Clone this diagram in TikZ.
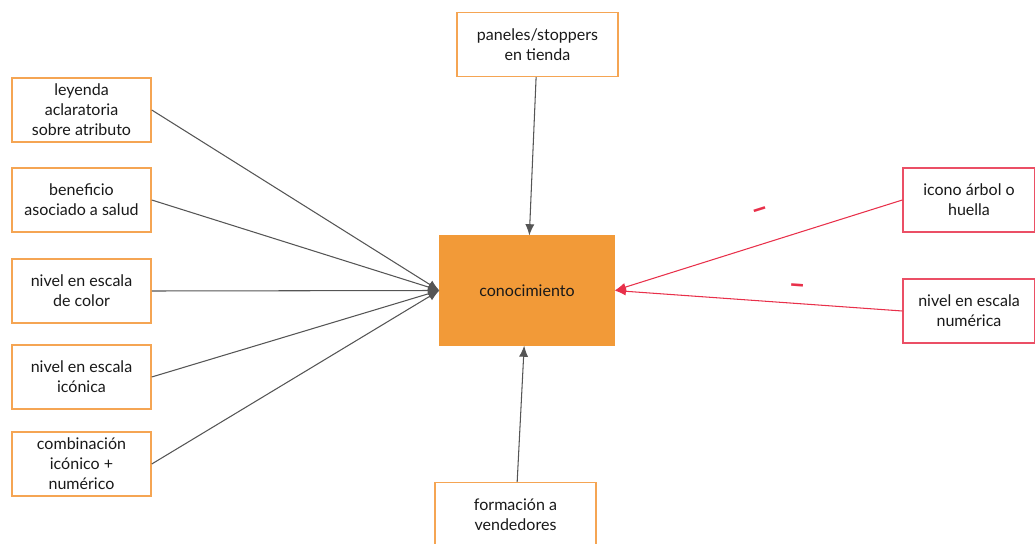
\documentclass[tikz,border=0pt]{standalone}
\usepackage{fontspec}
\setmainfont{Lato}
\usetikzlibrary{shapes,arrows.meta}
\definecolor{naranja}{HTML}{F5A553}
\definecolor{relleno}{HTML}{F29A38}
\definecolor{rojo}{HTML}{E8304A}
\definecolor{gris}{HTML}{555555}
\tikzstyle{var}=[rectangle,draw=naranja,line width=0.9pt,fill=white,minimum width=3.48cm,minimum height=1.6cm,align=center,font=\fontsize{11.4}{14.2}\selectfont,text=black!90]
\tikzstyle{rvar}=[var,draw=rojo!85]
\tikzstyle{centro}=[var,fill=relleno,draw=relleno,minimum width=4.35cm,minimum height=2.72cm]
\tikzstyle{p}=[-{Latex[length=8pt,width=6.5pt]},gris,line width=0.75pt]
\tikzstyle{n}=[-{Latex[length=8pt,width=6pt]},rojo,line width=0.75pt]
\tikzstyle{menos}=[rojo,font=\bfseries\huge,inner sep=0pt]

\begin{document}
\begin{tikzpicture}[x=0.025cm,y=-0.025cm]
    \useasboundingbox (0,0) rectangle (1035,544);
    \node[centro] (c) at (527,290.5) {conocimiento};
    \node[var] (1) at (81.5,110) {leyenda\\aclaratoria\\sobre atributo};
    \node[var] (2) at (81.5,200) {beneficio\\asociado a salud};
    \node[var] (3) at (81.5,291) {nivel en escala\\de color};
    \node[var] (4) at (81.5,377) {nivel en escala\\icónica};
    \node[var] (5) at (81.5,464) {combinación\\icónico +\\numérico};
    \node[var,minimum width=4.02cm] (6) at (537.5,44.5) {paneles/stoppers\\en tienda};
    \node[var,minimum width=4.02cm] (7) at (515.5,514.5) {formación a\\vendedores};
    \node[rvar,minimum width=3.3cm] (8) at (969,200) {icono árbol o\\huella};
    \node[rvar,minimum width=3.3cm] (9) at (969,311) {nivel en escala\\numérica};
    \draw[p] (1.east) to (c.west);
    \draw[p] (2.east) to (c.west);
    \draw[p] (3.east) to (c.west);
    \draw[p] (4.east) to (c.west);
    \draw[p] (5.east) to (c.west);
    \draw[p] (6) to (c);
    \draw[p] (7) to (c);
    \draw[n] (8.west) to node[pos=0.46,above=17pt,menos,sloped] {--} (c.east);
    \draw[n] (9.west) to node[pos=0.37,above=6pt,menos,sloped] {--} (c.east);
\end{tikzpicture}
\end{document}
